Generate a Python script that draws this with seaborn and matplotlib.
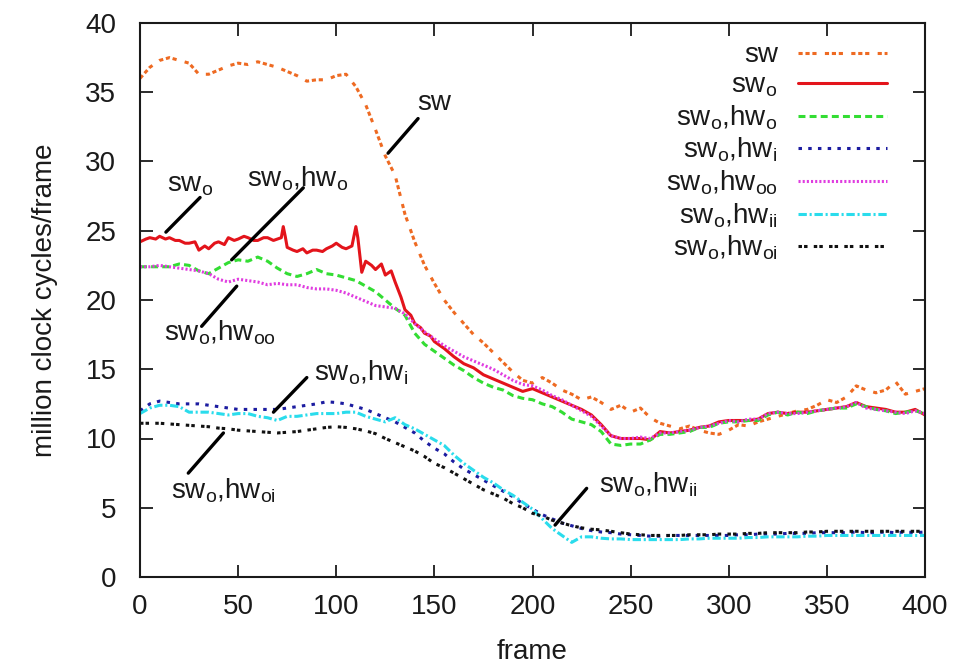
import matplotlib
matplotlib.use("Agg")
import matplotlib.pyplot as plt
import seaborn as sns
import pandas as pd

# ---------------- data ----------------
frames = list(range(0, 401, 5))

sw = [36.0, 36.8, 37.3, 37.5, 37.3, 37.1, 36.3, 36.3, 36.6, 36.9,
      37.1, 37.0, 37.2, 37.0, 36.8, 36.5, 36.2, 35.8, 35.9, 35.9,
      36.2, 36.3, 35.4, 34.1, 32.3, 30.4, 29.0, 26.2, 24.2, 22.5,
      21.2, 20.0, 19.1, 18.3, 17.5, 16.9, 16.2, 15.5, 14.8, 14.2,
      14.0, 14.4, 14.0, 13.5, 13.2, 12.8, 13.0, 12.6, 12.1, 12.4,
      11.9, 12.2, 11.5, 11.1, 10.9, 10.7, 10.9, 10.6, 10.4, 10.3,
      10.6, 11.0, 10.9, 11.2, 11.4, 11.6, 11.8, 12.0, 12.1, 12.4,
      12.8, 12.6, 13.0, 13.8, 13.5, 13.3, 13.5, 14.1, 13.2, 13.4,
      13.6]

sw_o_frames = [0, 3, 5, 8, 10, 13, 15, 18, 20, 23, 25, 28, 30, 33, 35, 38, 40, 43, 45,
               48, 50, 53, 55, 58, 60, 63, 65, 68, 70, 72, 73, 74, 75, 78, 80, 83, 85,
               88, 90, 93, 95, 98, 100, 103, 105, 108, 110, 111, 113, 115, 118, 120,
               123, 125, 128, 130, 133, 135, 138, 140, 143, 145, 148, 150, 155, 160,
               165, 170, 175, 180, 185, 190, 195, 200, 205, 210, 215, 220, 225, 230,
               235, 240, 245, 250, 255, 260, 265, 270, 275, 280, 285, 290, 295, 300,
               305, 310, 315, 320, 325, 330, 335, 340, 345, 350, 355, 360, 365, 370,
               375, 380, 385, 390, 395, 400]
sw_o = [24.2, 24.4, 24.5, 24.4, 24.6, 24.4, 24.5, 24.3, 24.3, 24.1, 24.1, 24.2, 23.6,
        23.9, 23.7, 24.1, 24.2, 24.0, 24.5, 24.3, 24.4, 24.6, 24.5, 24.3, 24.3, 24.5,
        24.5, 24.3, 24.4, 24.5, 25.3, 24.6, 23.8, 23.6, 23.5, 23.7, 23.4, 23.6, 23.6,
        23.5, 23.7, 23.9, 24.1, 23.8, 23.7, 23.9, 25.3, 24.5, 22.0, 22.8, 22.5, 22.2,
        22.6, 21.8, 22.1, 21.3, 20.2, 19.3, 18.9, 18.3, 18.0, 17.6, 17.4, 17.0, 16.5,
        15.9, 15.4, 15.1, 14.6, 14.3, 14.0, 13.7, 13.4, 13.6, 13.3, 13.0, 12.7, 12.4,
        12.1, 11.7, 11.0, 10.2, 10.0, 10.0, 10.0, 9.9, 10.5, 10.4, 10.5, 10.6, 10.8,
        10.9, 11.2, 11.3, 11.3, 11.3, 11.4, 11.8, 11.9, 11.8, 11.9, 11.9, 12.0, 12.1,
        12.2, 12.3, 12.6, 12.3, 12.2, 12.1, 11.9, 11.9, 12.1, 11.7]

sw_o_hw_o = [22.4, 22.4, 22.4, 22.4, 22.6, 22.5, 22.1, 21.9, 22.3, 22.7,
             22.9, 22.8, 23.1, 22.8, 22.3, 21.9, 21.7, 21.9, 22.2, 21.9,
             21.8, 21.6, 21.4, 21.0, 20.6, 20.0, 19.4, 18.9, 17.6, 16.8,
             16.3, 15.8, 15.3, 14.9, 14.4, 14.0, 13.7, 13.5, 13.1, 12.9,
             12.8, 12.5, 12.3, 11.9, 11.4, 11.2, 11.0, 10.5, 9.6, 9.5,
             9.6, 9.6, 9.9, 10.3, 10.3, 10.4, 10.5, 10.8, 10.8, 11.1,
             11.2, 11.2, 11.3, 11.3, 11.7, 11.9, 11.7, 11.9, 11.8, 12.0,
             12.1, 12.2, 12.2, 12.5, 12.3, 12.1, 12.0, 11.8, 11.9, 12.0,
             11.8]

sw_o_hw_i = [12.0, 12.5, 12.7, 12.6, 12.5, 12.5, 12.5, 12.4, 12.3, 12.2,
             12.1, 12.1, 12.1, 12.1, 12.1, 12.2, 12.3, 12.4, 12.5, 12.65,
             12.6, 12.5, 12.3, 12.1, 11.8, 11.5, 11.2, 10.8, 10.4, 9.8,
             9.3, 8.9, 8.3, 7.8, 7.4, 7.0, 6.6, 6.2, 5.8, 5.3,
             4.9, 4.5, 4.2, 3.9, 3.7, 3.5, 3.35, 3.25, 3.2, 3.1,
             3.05, 3.0, 2.95, 2.95, 3.0, 3.0, 3.0, 3.0, 3.0, 3.0,
             3.0, 3.05, 3.05, 3.1, 3.1, 3.1, 3.15, 3.15, 3.15, 3.2,
             3.2, 3.2, 3.2, 3.25, 3.2, 3.2, 3.25, 3.2, 3.25, 3.2,
             3.25]

sw_o_hw_oo = [22.4, 22.4, 22.5, 22.4, 22.3, 22.2, 22.1, 21.9, 21.5, 21.3,
              21.5, 21.4, 21.3, 21.1, 21.2, 21.1, 21.1, 20.9, 20.8, 20.8,
              20.7, 20.5, 20.2, 19.9, 19.6, 19.5, 19.4, 19.0, 18.3, 17.7,
              17.2, 16.7, 16.3, 15.9, 15.6, 15.3, 15.0, 14.6, 14.2, 13.9,
              13.8, 13.5, 13.1, 12.8, 12.4, 12.0, 11.6, 10.9, 10.2, 10.0,
              10.0, 10.1, 10.0, 10.4, 10.4, 10.5, 10.6, 10.8, 10.9, 11.1,
              11.3, 11.2, 11.4, 11.4, 11.8, 11.9, 11.8, 11.8, 11.9, 12.0,
              12.1, 12.2, 12.3, 12.6, 12.2, 12.1, 12.0, 11.9, 11.8, 12.0,
              11.8]

sw_o_hw_ii = [11.8, 12.2, 12.4, 12.4, 12.3, 11.9, 11.9, 11.9, 11.8, 11.7,
              11.8, 11.8, 11.6, 11.5, 11.3, 11.6, 11.6, 11.7, 11.8, 11.8,
              11.8, 11.9, 11.9, 11.6, 11.4, 11.2, 11.5, 11.0, 10.7, 10.3,
              9.9, 9.5, 8.8, 8.2, 7.7, 7.2, 6.8, 6.3, 5.9, 5.4,
              4.9, 4.2, 3.5, 3.0, 2.5, 2.9, 2.9, 2.8, 2.75, 2.75,
              2.7, 2.7, 2.7, 2.7, 2.7, 2.7, 2.75, 2.75, 2.8, 2.8,
              2.8, 2.8, 2.85, 2.85, 2.9, 2.9, 2.9, 2.9, 2.95, 2.95,
              3.0, 3.0, 3.0, 3.0, 3.0, 3.0, 3.0, 3.0, 3.0, 3.0,
              3.0]

sw_o_hw_oi = [11.1, 11.1, 11.1, 11.05, 11.0, 10.95, 10.9, 10.85, 10.75, 10.7,
              10.6, 10.55, 10.5, 10.45, 10.4, 10.45, 10.5, 10.6, 10.7, 10.8,
              10.85, 10.8, 10.7, 10.55, 10.35, 10.0, 9.7, 9.4, 9.1, 8.7,
              8.2, 7.9, 7.5, 7.1, 6.7, 6.3, 6.0, 5.7, 5.3, 5.0,
              4.6, 4.4, 4.1, 3.9, 3.7, 3.55, 3.45, 3.4, 3.3, 3.2,
              3.1, 3.05, 3.0, 3.0, 3.0, 3.0, 3.05, 3.05, 3.05, 3.1,
              3.1, 3.1, 3.15, 3.15, 3.2, 3.2, 3.2, 3.2, 3.25, 3.25,
              3.3, 3.3, 3.3, 3.3, 3.3, 3.3, 3.3, 3.3, 3.3, 3.3,
              3.3]

series_labels = ["sw", r"sw$_{\rm o}$", r"sw$_{\rm o}$,hw$_{\rm o}$",
                 r"sw$_{\rm o}$,hw$_{\rm i}$", r"sw$_{\rm o}$,hw$_{\rm oo}$",
                 r"sw$_{\rm o}$,hw$_{\rm ii}$", r"sw$_{\rm o}$,hw$_{\rm oi}$"]
x_ticks = [0, 50, 100, 150, 200, 250, 300, 350, 400]
y_ticks = [0, 5, 10, 15, 20, 25, 30, 35, 40]

# annotations: (label, text position, line start, line end)
annotations = [
    ("sw", (150, 33.7), (141.7, 33.1), (126.4, 30.6)),
    (r"sw$_{\rm o}$", (25.5, 27.8), (30.6, 27.4), (13.2, 24.9)),
    (r"sw$_{\rm o}$,hw$_{\rm o}$", (80.5, 28.2), (83.2, 28.1), (46.7, 22.9)),
    (r"sw$_{\rm o}$,hw$_{\rm oo}$", (40.8, 17.1), (49.3, 21.0), (31.4, 18.1)),
    (r"sw$_{\rm o}$,hw$_{\rm i}$", (112.6, 14.2), (85.0, 14.4), (68.0, 11.9)),
    (r"sw$_{\rm o}$,hw$_{\rm oi}$", (42.3, 5.7), (42.5, 10.4), (24.6, 7.5)),
    (r"sw$_{\rm o}$,hw$_{\rm ii}$", (259, 6.1), (227.6, 6.4), (211.5, 3.75)),
]

# ---------------- style ----------------
sns.set_theme(style="ticks")
plt.rcParams["font.family"] = ["Liberation Sans", "DejaVu Sans"]
plt.rcParams["mathtext.fontset"] = "custom"
plt.rcParams["mathtext.rm"] = "Liberation Sans"
plt.rcParams["mathtext.it"] = "Liberation Sans:italic"
plt.rcParams["lines.scale_dashes"] = False

FS = 20
TXT = "#1a1a1a"

fig = plt.figure(figsize=(9.67, 6.71), dpi=100)
ax = fig.add_axes([140 / 967, 1 - 577 / 671, 785 / 967, 554 / 671])

specs = [
    (frames, sw, "#ee6a22", (3, 2, 3, 2, 3, 6)),
    (sw_o_frames, sw_o, "#e3141b", None),
    (frames, sw_o_hw_o, "#33dd33", (5, 3)),
    (frames, sw_o_hw_i, "#1c1ca0", (2.5, 4.5)),
    (frames, sw_o_hw_oo, "#e03ce0", (1.5, 1.5)),
    (frames, sw_o_hw_ii, "#2adcec", (6, 2, 1.5, 2)),
    (frames, sw_o_hw_oi, "#111111", (2.5, 1.5, 2.5, 4.5)),
]

for (fx, fy, col, dash), lab in zip(specs, series_labels):
    df = pd.DataFrame({"frame": fx, "val": fy})
    n0 = len(ax.lines)
    sns.lineplot(data=df, x="frame", y="val", ax=ax, color=col, label=lab,
                 linewidth=2.2, errorbar=None, sort=False)
    line = ax.lines[n0]
    if dash is not None:
        line.set_dashes(dash)

for txt, tpos, p0, p1 in annotations:
    ax.text(tpos[0], tpos[1], txt, ha="center", va="baseline", fontsize=FS, color=TXT)
    ax.annotate("", xy=p1, xytext=p0,
                arrowprops=dict(arrowstyle="-", color="black", lw=2.4,
                                shrinkA=0, shrinkB=0))

ax.set_xlim(0, 400)
ax.set_ylim(0, 40)
ax.set_xticks(x_ticks)
ax.set_yticks(y_ticks)
ax.tick_params(direction="in", length=9, width=1.3, top=True, right=True,
               labelsize=FS, colors=TXT)
ax.tick_params(axis="x", pad=12)
ax.tick_params(axis="y", pad=17)
for s in ax.spines.values():
    s.set_linewidth(1.5)
    s.set_color(TXT)
ax.set_xlabel("frame", fontsize=FS, labelpad=14, color=TXT)
ax.set_ylabel("million clock cycles/frame", fontsize=FS, labelpad=20, color=TXT)

handles, labels = ax.get_legend_handles_labels()
leg = ax.legend(handles, labels, loc="upper right", bbox_to_anchor=(0.952, 0.965),
                frameon=False, markerfirst=False, fontsize=FS, handlelength=3.2,
                handletextpad=0.75, labelspacing=0.15, borderaxespad=0, borderpad=0)
for t in leg.get_texts():
    t.set_color(TXT)

fig.savefig("out.png", dpi=100, facecolor="white")
